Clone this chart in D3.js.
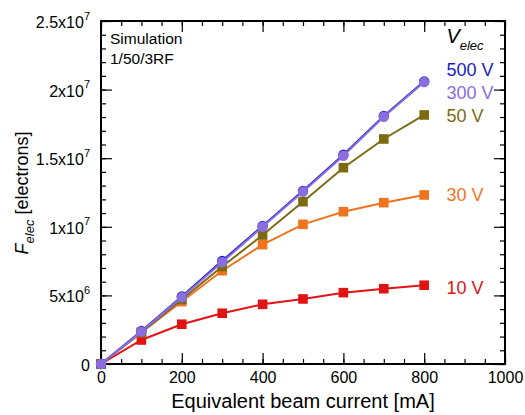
<!DOCTYPE html>
<html>
<head>
<meta charset="utf-8">
<script src="https://cdn.jsdelivr.net/npm/d3@7"></script>
<style>
  body { margin: 0; background: #fff; }
  svg { font-family: "Liberation Sans", Arial, sans-serif; }
</style>
</head>
<body>
<svg id="chart" width="525" height="415"></svg>
<script>
// beam current [mA]
const currents = [0, 100, 200, 300, 400, 500, 600, 700, 800];

// F_elec [electrons] per electrode voltage
const v500 = [0, 2.40e6, 4.92e6, 7.52e6, 1.006e7, 1.262e7, 1.525e7, 1.808e7, 2.06e7];
const v300 = [0, 2.36e6, 4.86e6, 7.42e6, 1.000e7, 1.256e7, 1.518e7, 1.802e7, 2.055e7];
const v50 = [0, 2.30e6, 4.70e6, 7.10e6, 9.40e6, 1.183e7, 1.431e7, 1.640e7, 1.815e7];
const v30 = [0, 2.30e6, 4.55e6, 6.80e6, 8.70e6, 1.018e7, 1.110e7, 1.176e7, 1.232e7];
const v10 = [0, 1.75e6, 2.90e6, 3.70e6, 4.35e6, 4.74e6, 5.20e6, 5.49e6, 5.74e6];

const seriesNames = ["10 V", "30 V", "50 V", "500 V", "300 V"];
const seriesColors = ["#e01414", "#f0741e", "#7d6b12", "#1c1cc4", "#8a6ee0"];
const seriesShapes = ["square", "square", "square", "circle", "circle"];
const seriesData = [v10, v30, v50, v500, v300];

// legend labels (top to bottom) and the value each sits beside
const legendNames = ["500 V", "300 V", "50 V", "30 V", "10 V"];
const legendColors = ["#1c1cc4", "#8a6ee0", "#7d6b12", "#f0741e", "#e01414"];
const legendValues = [2.15e7, 1.982e7, 1.808e7, 1.232e7, 5.61e6];

const xTicks = [0, 200, 400, 600, 800, 1000];
const yTicks = [0, 5e6, 1e7, 1.5e7, 2e7, 2.5e7];
const yTickMant = ["0", "5x10", "1x10", "1.5x10", "2x10", "2.5x10"];
const yTickExp = ["", "6", "7", "7", "7", "7"];

const svg = d3.select("#chart");
const margin = { top: 21, right: 20, bottom: 51, left: 101 };
const width = 525 - margin.left - margin.right;   // 404
const height = 415 - margin.top - margin.bottom;  // 343

const x = d3.scaleLinear().domain([0, 1000]).range([0, width]);
const y = d3.scaleLinear().domain([0, 2.5e7]).range([height, 0]);

const g = svg.append("g").attr("transform", `translate(${margin.left},${margin.top})`);

// minor ticks (inward), all four sides
function minorAxis(axisFn, scale, ticks, size) {
    return axisFn(scale).tickValues(ticks).tickSize(size).tickFormat("");
}
const xMinor = d3.range(0, 1001, 50);
const yMinor = d3.range(0, 2.5e7 + 1, 1e6);

g.append("g").attr("transform", `translate(0,${height})`).call(minorAxis(d3.axisBottom, x, xMinor, -5));
g.append("g").call(minorAxis(d3.axisTop, x, xMinor, -5));
g.append("g").call(minorAxis(d3.axisLeft, y, yMinor, -5));
g.append("g").attr("transform", `translate(${width},0)`).call(minorAxis(d3.axisRight, y, yMinor, -5));

// major ticks
g.append("g").attr("class", "xaxis").attr("transform", `translate(0,${height})`)
    .call(d3.axisBottom(x).tickValues(xTicks).tickFormat(d3.format("d"))
        .tickSizeInner(-11).tickSizeOuter(0).tickPadding(8));
g.append("g").call(d3.axisTop(x).tickValues(xTicks).tickSize(-11).tickFormat(""));
g.append("g").attr("class", "yaxis")
    .call(d3.axisLeft(y).tickValues(yTicks).tickSizeInner(-11).tickSizeOuter(0).tickPadding(22));
g.append("g").attr("transform", `translate(${width},0)`)
    .call(d3.axisRight(y).tickValues(yTicks).tickSize(-11).tickFormat(""));

g.selectAll(".domain").remove();
g.selectAll(".tick line").attr("stroke", "#000").attr("stroke-width", 1.2);

g.select(".xaxis").selectAll("text")
    .attr("font-size", 16).attr("fill", "#000").attr("font-family", "Liberation Sans, Arial, sans-serif");

g.select(".yaxis").selectAll("text")
    .attr("font-size", 16).attr("fill", "#000").attr("dy", "0.40em").attr("x", -11)
    .attr("font-family", "Liberation Sans, Arial, sans-serif")
    .each(function (d, i) {
        const t = d3.select(this).text("");
        t.append("tspan").text(yTickMant[i]);
        if (yTickExp[i]) {
            t.append("tspan").attr("font-size", 11).attr("dy", "-0.75em").text(yTickExp[i]);
        }
    });

// frame
g.append("rect").attr("width", width).attr("height", height)
    .attr("fill", "none").attr("stroke", "#000").attr("stroke-width", 2);

// series lines and markers
const line = d3.line().x((d, i) => x(currents[i])).y(d => y(d));

seriesData.forEach((vals, s) => {
    const col = seriesColors[s];
    g.append("path").datum(vals)
        .attr("fill", "none").attr("stroke", col).attr("stroke-width", 2)
        .attr("d", line);

    if (seriesShapes[s] === "circle") {
        g.selectAll(null).data(vals).enter().append("circle")
            .attr("cx", (d, i) => x(currents[i]))
            .attr("cy", d => y(d))
            .attr("r", 5.2)
            .attr("fill", col);
    } else {
        g.selectAll(null).data(vals).enter().append("rect")
            .attr("x", (d, i) => x(currents[i]) - 4.8)
            .attr("y", d => y(d) - 4.8)
            .attr("width", 9.6).attr("height", 9.6)
            .attr("fill", col);
    }
});

// legend labels beside the line ends
legendNames.forEach((name, i) => {
    g.append("text")
        .attr("x", x(855))
        .attr("y", y(legendValues[i]))
        .attr("dy", "0.36em")
        .attr("font-size", 18)
        .attr("fill", legendColors[i])
        .text(name);
});

// V_elec heading
const vh = g.append("text").attr("x", x(855)).attr("y", 22)
    .attr("font-size", 20).attr("fill", "#000");
vh.append("tspan").attr("font-style", "italic").text("V");
vh.append("tspan").attr("font-style", "italic").attr("font-size", 13).attr("dy", "0.5em").text("elec");

// simulation note
g.append("text").attr("x", 9).attr("y", 23).attr("font-size", 15.5).attr("fill", "#000").text("Simulation");
g.append("text").attr("x", 9).attr("y", 43).attr("font-size", 15.5).attr("fill", "#000").text("1/50/3RF");

// axis titles
svg.append("text")
    .attr("x", margin.left + width / 2)
    .attr("y", 408)
    .attr("text-anchor", "middle")
    .attr("font-size", 20)
    .attr("fill", "#000")
    .text("Equivalent beam current [mA]");

const yl = svg.append("text")
    .attr("transform", "translate(28,193) rotate(-90)")
    .attr("text-anchor", "middle")
    .attr("font-size", 18)
    .attr("fill", "#000");
yl.append("tspan").attr("font-style", "italic").text("F");
yl.append("tspan").attr("font-style", "italic").attr("font-size", 13).attr("dy", "0.45em").text("elec");
yl.append("tspan").attr("dy", "-0.35em").text(" [electrons]");
</script>
</body>
</html>
